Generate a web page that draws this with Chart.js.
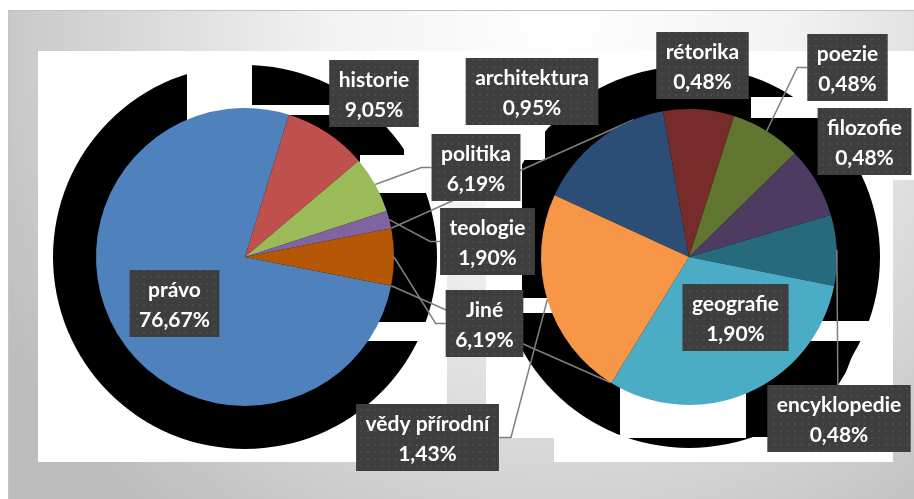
<!DOCTYPE html>
<html lang="cs">
<head>
<meta charset="utf-8">
<title>Obory</title>
<script src="https://cdn.jsdelivr.net/npm/chart.js@4.4.1/dist/chart.umd.min.js"></script>
<style>
html,body{margin:0;padding:0;background:#fff;}
#wrap{position:relative;width:914px;height:499px;overflow:hidden;}
#wrap canvas{position:absolute;left:0;top:0;}
</style>
</head>
<body>
<div id="wrap">
  <canvas id="mainPie" width="914" height="499"></canvas>
  <canvas id="subPie" width="914" height="499"></canvas>
</div>
<script>
'use strict';
// primary pie; the last slice "Jiné" is broken out into the secondary pie
var mainLabels=['právo','historie','politika','teologie','Jiné'];
var mainValues=[76.67,9.05,6.19,1.90,6.19];
var mainColors=['#4F81BD','#C0504D','#9BBB59','#8064A2','#B65708'];

// secondary pie (parts of "Jiné"), values as share of the whole
var subLabels=['architektura','rétorika','poezie','filozofie','encyklopedie','geografie','vědy přírodní'];
var subValues=[0.95,0.48,0.48,0.48,0.48,1.90,1.43];
var subColors=['#2C4D75','#772C2A','#5F7530','#4D3B62','#276A7C','#4BACC6','#F79646'];

// label boxes: [centre x, top y], leader side (null = no leader)
var mainBoxes=[[174.5,270],[374,60],[476,134],[487.5,208],[484.5,290]];
var mainLeaders=[null,null,'left','left','left'];
var subBoxes=[[532,58],[702.5,32],[847.5,34],[864.5,108],[839,385],[735.5,284],[427.5,404]];
var subLeaders=[null,null,'left',null,'top',null,'right'];

var LINE='#808080';
var FONT='bold 21px Lato';

function fmt(v){return v.toFixed(2).replace('.',',')+'%';}
function sum(a){return a.reduce(function(s,v){return s+v;},0);}

// turn the primary pie so the broken-out slice sits at 3 o'clock
var otherIdx=mainValues.length-1;
var mainRotation=90-(sum(mainValues.slice(0,otherIdx))+mainValues[otherIdx]/2)/sum(mainValues)*360;

// frame gradient, reused for the spots where the plot area lets it through
function frameFill(ctx){
  var g=ctx.createRadialGradient(560,20,0,560,20,640);
  g.addColorStop(0,'#ffffff');
  g.addColorStop(0.35,'#f3f3f3');
  g.addColorStop(1,'#bdbdbd');
  return g;
}
function rects(ctx,list){list.forEach(function(r){ctx.fillRect(r[0],r[1],r[2],r[3]);});}
function disc(ctx,x,y,r){ctx.beginPath();ctx.arc(x,y,r,0,Math.PI*2);ctx.fill();}

var backdrop={
  id:'backdrop',
  beforeDraw:function(chart){
    var ctx=chart.ctx;
    var g=frameFill(ctx);
    ctx.save();
    ctx.fillStyle=g;
    ctx.fillRect(8,10,906,489);
    ctx.strokeStyle='#c4c4c4';ctx.lineWidth=1;
    ctx.beginPath();ctx.moveTo(8.5,499);ctx.lineTo(8.5,10.5);ctx.lineTo(914,10.5);ctx.stroke();
    ctx.fillStyle='#fff';
    ctx.fillRect(38,51,855,411);
    ctx.fillRect(893,51,21,129);

    // broken shadow behind both pies
    ctx.fillStyle='#000';
    disc(ctx,245,257,192);
    disc(ctx,689,257,191);
    ctx.fillStyle='#fff';
    rects(ctx,[
      [187,51,65,74],[252,105,78,10],[404,51,56,104],[360,155,100,38],[360,322,100,19],
      [440,51,82,411],[522,51,23,109],[751,97,79,21],[791,321,109,20],[522,298,38,15],[620,380,126,58]
    ]);
    ctx.fillStyle='#000';
    ctx.beginPath();
    ctx.moveTo(746,341);ctx.lineTo(858,341);ctx.lineTo(846,372);ctx.lineTo(826,405);
    ctx.lineTo(800,437);ctx.lineTo(746,437);ctx.closePath();ctx.fill();

    ctx.fillStyle=g;
    rects(ctx,[[447,202,39,260],[486,438,68,24],[893,180,21,282]]);
    ctx.restore();
  }
};

var dotPattern=null;
function boxFill(ctx){
  if(!dotPattern){
    var c=document.createElement('canvas');c.width=7;c.height=7;
    var p=c.getContext('2d');
    p.fillStyle='#3e3e3e';p.fillRect(0,0,7,7);
    p.fillStyle='#4b4b4b';p.fillRect(3,3,2,2);
    dotPattern=ctx.createPattern(c,'repeat');
  }
  return dotPattern;
}

function arcPoint(arc,angle,r){
  var p=arc.getProps(['x','y','outerRadius'],true);
  return {x:p.x+Math.cos(angle)*(r||p.outerRadius),y:p.y+Math.sin(angle)*(r||p.outerRadius)};
}
function midAngle(arc){
  var p=arc.getProps(['startAngle','endAngle'],true);
  return (p.startAngle+p.endAngle)/2;
}

function layoutBoxes(ctx,labels,values,boxes){
  ctx.font=FONT;
  return labels.map(function(name,i){
    var t=fmt(values[i]);
    var w=Math.max(ctx.measureText(name).width,ctx.measureText(t).width)+19;
    return {x:boxes[i][0]-w/2,y:boxes[i][1],w:w,h:67,lines:[name,t]};
  });
}

function drawLeader(ctx,arc,b,side){
  var s=arcPoint(arc,midAngle(arc));
  ctx.beginPath();
  ctx.moveTo(s.x,s.y);
  if(side==='left'){
    var my=b.y+b.h/2;
    ctx.lineTo(b.x-10,my);ctx.lineTo(b.x,my);
  }else if(side==='right'){
    var ry=b.y+b.h/2;
    ctx.lineTo(b.x+b.w+12,ry);ctx.lineTo(b.x+b.w,ry);
  }else{
    ctx.lineTo(s.x+1,b.y);
  }
  ctx.stroke();
}

function drawBox(ctx,b){
  ctx.fillStyle=boxFill(ctx);
  ctx.fillRect(b.x,b.y,b.w,b.h);
  ctx.fillStyle='#fff';
  ctx.font=FONT;
  ctx.textAlign='center';
  ctx.textBaseline='alphabetic';
  ctx.fillText(b.lines[0],b.x+b.w/2,b.y+27);
  ctx.fillText(b.lines[1],b.x+b.w/2,b.y+57);
}

var mainChart=new Chart(document.getElementById('mainPie'),{
  type:'pie',
  data:{labels:mainLabels,datasets:[{data:mainValues,backgroundColor:mainColors,borderWidth:0,radius:149}]},
  options:{
    responsive:false,animation:false,devicePixelRatio:1,
    rotation:mainRotation,
    layout:{padding:{left:96,right:520,top:108,bottom:93}},
    plugins:{legend:{display:false},tooltip:{enabled:false}}
  },
  plugins:[backdrop]
});

// series lines from the broken-out slice to the secondary pie (canvas angles, degrees)
var seriesEnds=[-112,122];

var overlay={
  id:'overlay',
  beforeDatasetsDraw:function(chart){
    var ctx=chart.ctx;
    var other=mainChart.getDatasetMeta(0).data[otherIdx];
    var op=other.getProps(['startAngle','endAngle'],true);
    var hub=chart.getDatasetMeta(0).data[0];
    var from=[arcPoint(other,op.startAngle),arcPoint(other,op.endAngle)];
    ctx.save();
    ctx.strokeStyle=LINE;ctx.lineWidth=1.5;
    from.forEach(function(f,i){
      var t=arcPoint(hub,seriesEnds[i]*Math.PI/180);
      ctx.beginPath();ctx.moveTo(f.x,f.y);ctx.lineTo(t.x,t.y);ctx.stroke();
    });
    ctx.restore();
  },
  afterDraw:function(chart){
    var ctx=chart.ctx;
    var mainArcs=mainChart.getDatasetMeta(0).data;
    var subArcs=chart.getDatasetMeta(0).data;
    var mb=layoutBoxes(ctx,mainLabels,mainValues,mainBoxes);
    var sb=layoutBoxes(ctx,subLabels,subValues,subBoxes);
    ctx.save();
    ctx.strokeStyle=LINE;ctx.lineWidth=1.5;
    mainLeaders.forEach(function(s,i){if(s)drawLeader(ctx,mainArcs[i],mb[i],s);});
    subLeaders.forEach(function(s,i){if(s)drawLeader(ctx,subArcs[i],sb[i],s);});
    mb.concat(sb).forEach(function(b){drawBox(ctx,b);});
    ctx.restore();
  }
};

var subChart=new Chart(document.getElementById('subPie'),{
  type:'pie',
  data:{labels:subLabels,datasets:[{data:subValues,backgroundColor:subColors,borderWidth:0,radius:148}]},
  options:{
    responsive:false,animation:false,devicePixelRatio:1,
    rotation:-65.3,
    layout:{padding:{left:541,right:77,top:109,bottom:94}},
    plugins:{legend:{display:false},tooltip:{enabled:false}}
  },
  plugins:[overlay]
});
</script>
</body>
</html>
